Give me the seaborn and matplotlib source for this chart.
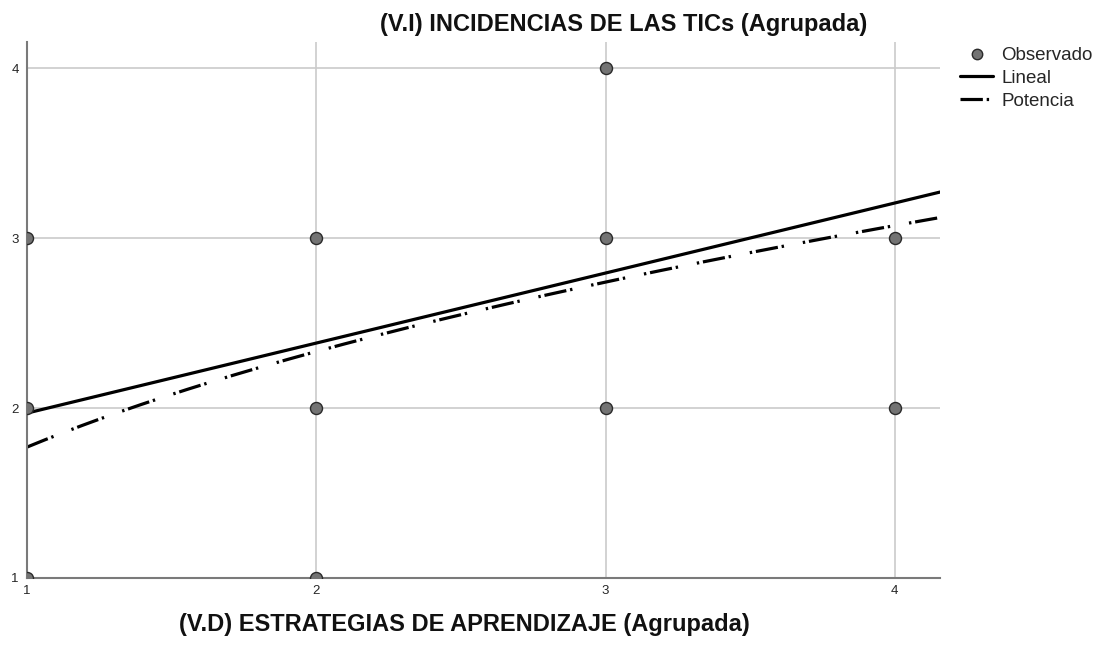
import numpy as np
import pandas as pd
import seaborn as sns
import matplotlib.pyplot as plt
from matplotlib.lines import Line2D

# observed points (x = estrategias, y = incidencias)
obs_x = [1, 1, 1, 2, 2, 2, 3, 3, 3, 4, 4]
obs_y = [3, 2, 1, 3, 2, 1, 4, 3, 2, 3, 2]

# fitted curves
lin_b0, lin_b1 = 1.558, 0.412      # y = b0 + b1*x
pot_a, pot_b = 1.77, 0.398         # y = a * x**b

x_ticks = [1, 2, 3, 4]
y_ticks = [1, 2, 3, 4]

pot_dashes = [7, 1.2, 0.75, 6, 0.75, 1.2]

sns.set_theme(style="white")
plt.rcParams['font.family'] = ['Liberation Sans', 'DejaVu Sans']

fig = plt.figure(figsize=(10.99, 6.45), dpi=100)
ax = fig.add_axes([27/1099, 1-578/645, (940-27)/1099, (578-42)/645])

ax.set_xlim(1, 4.156)
ax.set_ylim(1, 4.153)

xx = np.linspace(1, 4.156, 200)
fits = pd.DataFrame({'x': xx,
                     'lin': lin_b0 + lin_b1 * xx,
                     'pot': pot_a * xx ** pot_b})

ax.grid(True, color='#cbcbcb', linewidth=1.2)
ax.set_axisbelow(True)

sns.lineplot(data=fits, x='x', y='lin', ax=ax, color='black', linewidth=2.3)
sns.lineplot(data=fits, x='x', y='pot', ax=ax, color='black', linewidth=2.3)
ax.lines[-1].set_dashes(pot_dashes)

df = pd.DataFrame({'x': obs_x, 'y': obs_y})
sns.scatterplot(data=df, x='x', y='y', ax=ax, s=75, color='#737373',
                edgecolor='#2a2a2a', linewidth=1, zorder=5)

ax.set_xticks(x_ticks)
ax.set_yticks(y_ticks)
ax.set_xticklabels([str(t) for t in x_ticks], fontsize=9.5)
ax.set_yticklabels([str(t) for t in y_ticks], fontsize=9.5)
ax.tick_params(axis='y', length=0, pad=6)
ax.tick_params(axis='x', length=0, pad=5)
ax.set_xlabel('')
ax.set_ylabel('')
for s in ['top', 'right']:
    ax.spines[s].set_visible(False)
for s in ['left', 'bottom']:
    ax.spines[s].set_color('#7a7a7a')
    ax.spines[s].set_linewidth(1.5)

fig.text(624/1099, 1-24/645, '(V.I) INCIDENCIAS DE LAS TICs (Agrupada)',
         ha='center', va='center', fontsize=17, fontweight='bold', color='#111111')
fig.text(464/1099, 1-625/645, '(V.D) ESTRATEGIAS DE APRENDIZAJE (Agrupada)',
         ha='center', va='center', fontsize=17, fontweight='bold', color='#111111')

handles = [Line2D([], [], marker='o', linestyle='none', markersize=7.5,
                  markerfacecolor='#737373', markeredgecolor='#2a2a2a'),
           Line2D([], [], color='black', linewidth=2.3),
           Line2D([], [], color='black', linewidth=2.3, dashes=[7, 1.2, 0.75, 6])]
fig.legend(handles, ['Observado', 'Lineal', 'Potencia'], loc='upper left',
           bbox_to_anchor=(960/1099, 1-47/645), frameon=False, fontsize=13.5,
           handlelength=1.76, handletextpad=0.43, labelspacing=0.3,
           borderpad=0, borderaxespad=0)

fig.savefig('out.png', dpi=100)
